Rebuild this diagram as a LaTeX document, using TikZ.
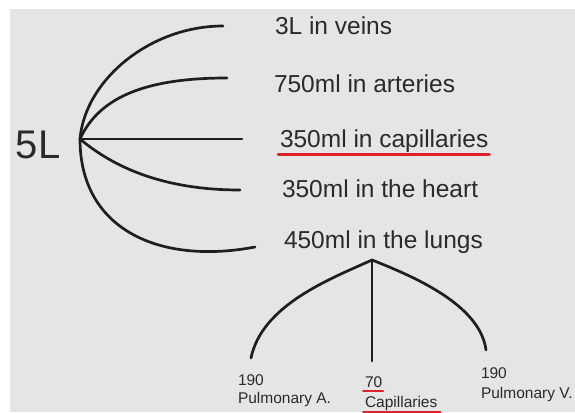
\documentclass[tikz,border=0pt]{standalone}
\usepackage{fontspec}
\setmainfont{Liberation Sans}
\usetikzlibrary{positioning,calc}
\definecolor{inkDark}{HTML}{1E1E1E}
\definecolor{textDark}{HTML}{2A2A2A}
\definecolor{paperGray}{HTML}{E5E5E5}
\definecolor{markRed}{HTML}{DD2229}
\tikzset{
  bloodFig/.style={
    x=1pt, y=-1pt,
    every node/.style={inner sep=0pt, outer sep=0pt},
    line cap=round, line join=round,
  },
  branch/.style={draw=inkDark, line width=2.7pt},
  bigLabel/.style={font=\fontsize{40}{44}\selectfont, text=textDark, anchor=base west},
  itemLabel/.style={font=\fontsize{24.5}{28}\selectfont, text=textDark, anchor=base west},
  smallLabel/.style={font=\fontsize{15.5}{18}\selectfont, text=textDark, anchor=base west},
  redMark/.style={draw=markRed, line width=3pt},
  redMarkThin/.style={draw=markRed, line width=2pt},
}

\begin{document}
\begin{tikzpicture}[bloodFig]

% ============================================================
% Canvas: white strip on top/left, gray sheet behind everything
% ============================================================
\useasboundingbox (0,0) rectangle (575,412);
\fill[white] (0,0) rectangle (575,412);
\fill[paperGray] (10,9) rectangle (575,412);

% ============================================================
% Total volume and its five shares
% ============================================================
\node[bigLabel] (total) at (16,158) {5L};

\node[itemLabel] (veins)    at (275,35)  {3L in veins};
\node[itemLabel] (arteries) at (274,92)  {750ml in arteries};
\node[itemLabel] (capil)    at (280,147) {350ml in capillaries};
\node[itemLabel] (heart)    at (282,197) {350ml in the heart};
\node[itemLabel] (lungs)    at (284,248) {450ml in the lungs};

% fan of branches out of one hub just right of "5L"
\coordinate (hub)         at (80,139);
\coordinate (veinsEnd)    at (223,26);
\coordinate (arteriesEnd) at (227,78);
\coordinate (capilEnd)    at (242,139);
\coordinate (heartEnd)    at (240,190);
\coordinate (lungsEnd)    at (255,247);

\draw[branch] (hub) .. controls (85,80) and (150,26) .. (veinsEnd);
\draw[branch] (hub) .. controls (100,95) and (150,78) .. (arteriesEnd);
\draw[branch] (hub) -- (capilEnd);
\draw[branch] (hub) .. controls (118,171) and (170,190) .. (heartEnd);
\draw[branch] (hub) .. controls (80,230) and (160,265) .. (lungsEnd);

% red mark under the capillary share
\draw[redMark] ([xshift=-2pt, yshift=-7pt]capil.base west)
  -- ([xshift=1pt, yshift=-7pt]capil.base east);

% ============================================================
% Split of the lung share
% ============================================================
\coordinate (apex)      at (372,260);
\coordinate (pulmAEnd)  at (251,358);
\coordinate (capBEnd)   at (372,361);
\coordinate (pulmVEnd)  at (486,350);

\draw[branch] (apex) .. controls (330,279) and (262,305) .. (pulmAEnd);
\draw[branch] (apex) -- (capBEnd);
\draw[branch] (apex) .. controls (415,277) and (480,305) .. (pulmVEnd);

\node[smallLabel] (pulmAval)  at (238,385) {190};
\node[smallLabel] (pulmAname) at (238,403) {Pulmonary A.};
\node[smallLabel] (capBval)   at (365,387) {70};
\node[smallLabel] (capBname)  at (365,407) {Capillaries};
\node[smallLabel] (pulmVval)  at (481,378) {190};
\node[smallLabel] (pulmVname) at (481,398) {Pulmonary V.};

\draw[redMarkThin] ([xshift=-2pt, yshift=-4pt]capBval.base west)
  -- ([xshift=1pt, yshift=-4pt]capBval.base east);
\draw[redMarkThin] ([xshift=-2pt, yshift=-4.5pt]capBname.base west)
  -- ([xshift=3pt, yshift=-4.5pt]capBname.base east);

\end{tikzpicture}
\end{document}
